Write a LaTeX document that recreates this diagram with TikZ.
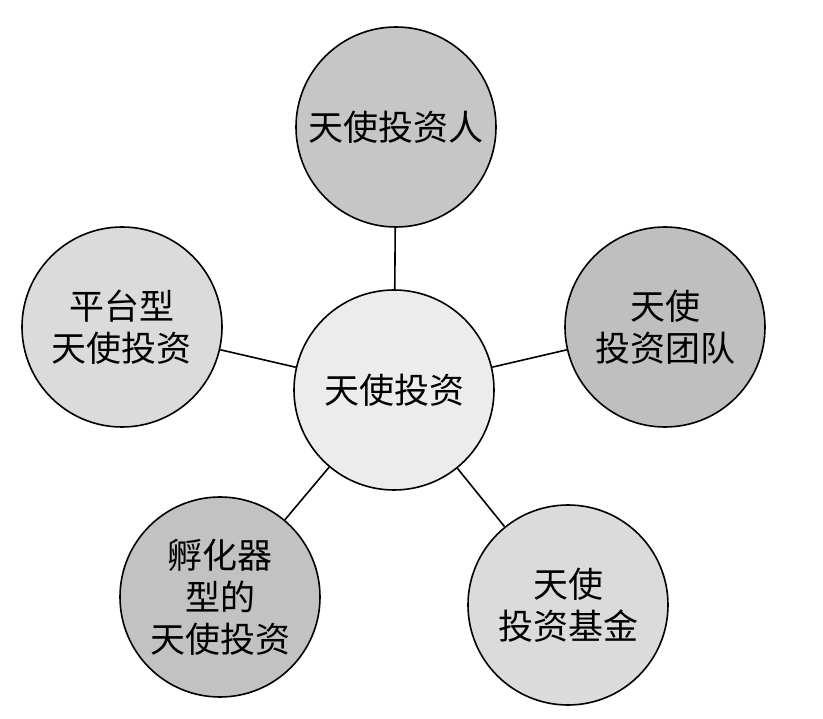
\documentclass[tikz,border=0pt]{standalone}
\usepackage{fontspec}
\newfontfamily\cjk{Noto Sans CJK SC}
\begin{document}
\begin{tikzpicture}[x=1pt,y=-1pt,
  bub/.style={circle,draw=black,line width=1.6pt,minimum size=200pt,inner sep=0pt,align=center,font=\cjk\fontsize{35}{42}\selectfont},
  link/.style={line width=1.6pt}]
\useasboundingbox (0,0) rectangle (823,719);
\node[bub,fill=gray!15] (c) at (394,390) {天使投资};
\node[bub,fill=gray!45] (t) at (396,127) {天使投资人};
\node[bub,fill=gray!50] (r) at (665,327) {天使\\投资团队};
\node[bub,fill=gray!28] (l) at (122,327) {平台型\\天使投资};
\node[bub,fill=gray!48] (bl) at (220,597) {孵化器\\型的\\天使投资};
\node[bub,fill=gray!28] (br) at (568,605) {天使\\投资基金};
\foreach \n in {t,r,l,bl,br} \draw[link] (c) -- (\n);
\end{tikzpicture}
\end{document}
